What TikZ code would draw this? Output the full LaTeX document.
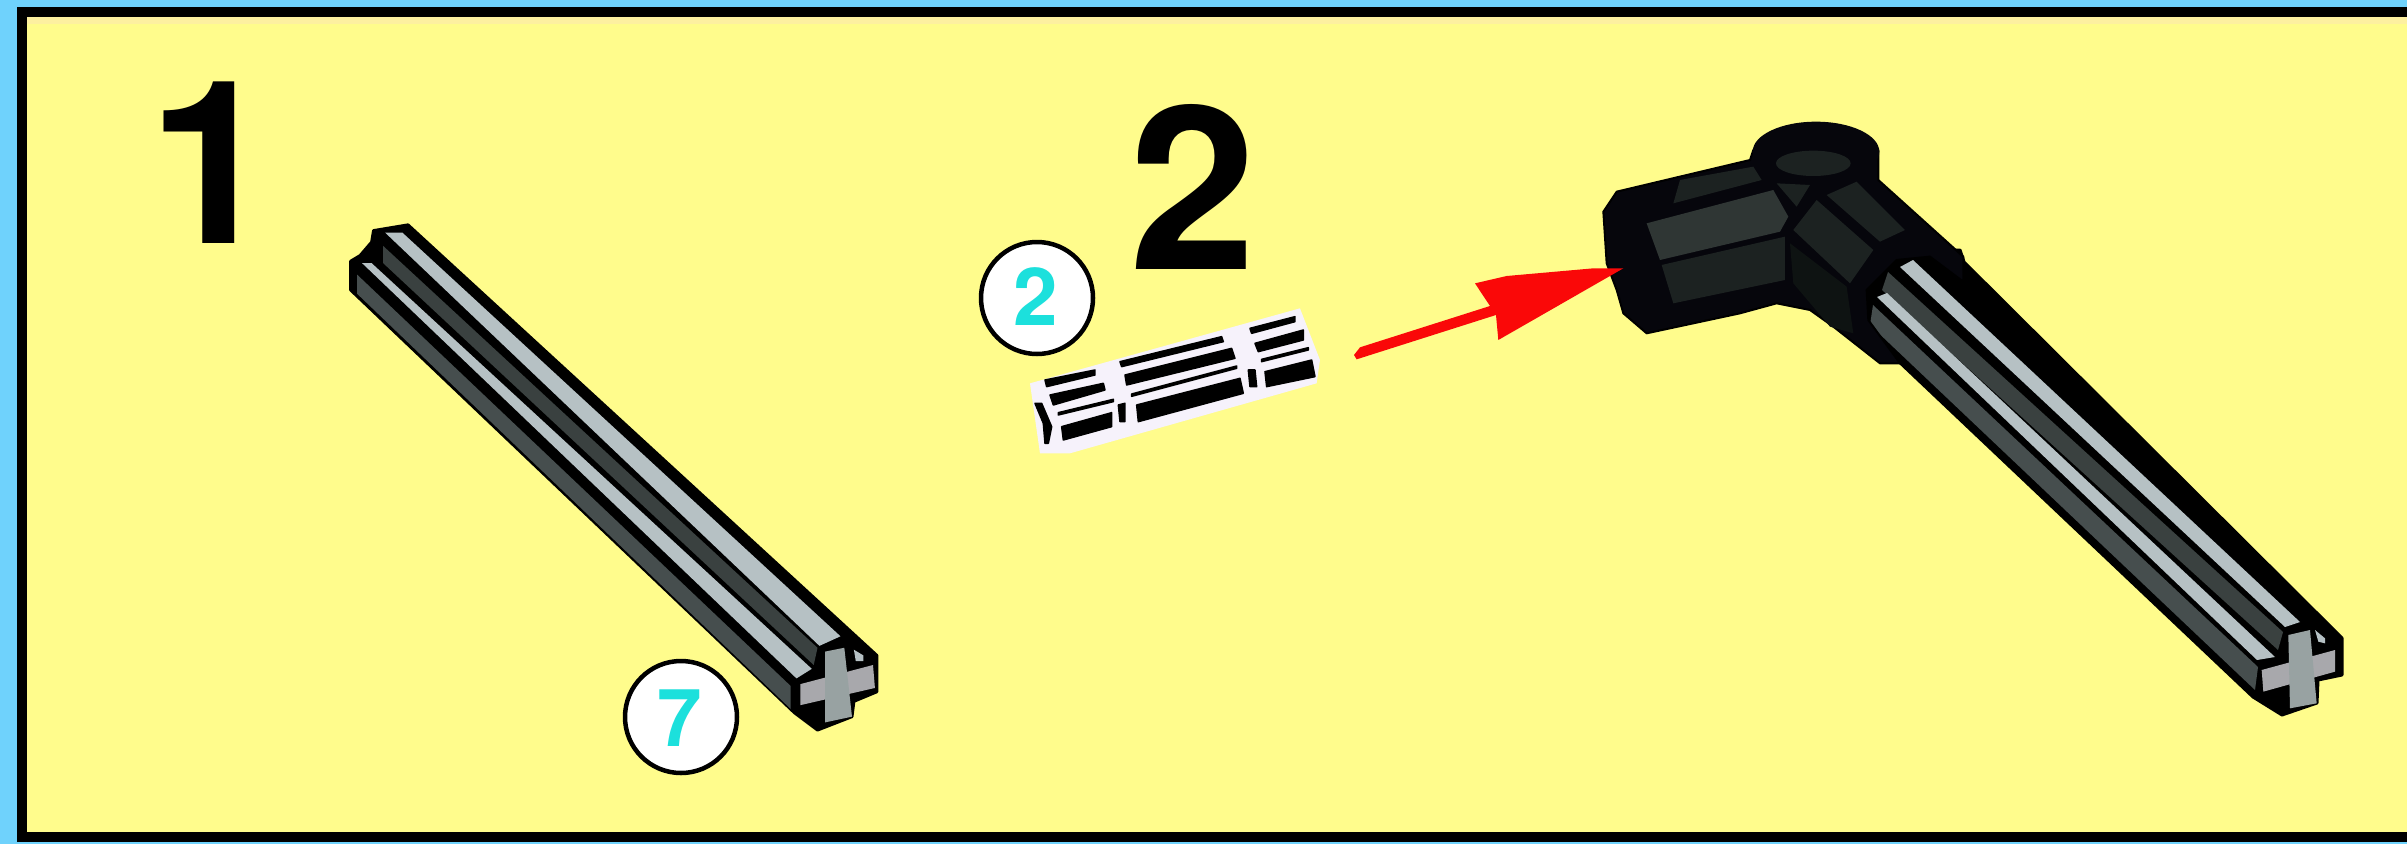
\documentclass[tikz,border=0pt]{standalone}
\usepackage{fontspec}
\setmainfont{TeX Gyre Heros}
\definecolor{skyc}{HTML}{6FD2FC}
\definecolor{paper}{HTML}{FFFC8C}
\definecolor{paleband}{HTML}{FDF0A0}
\definecolor{rodlight}{HTML}{B6C1C4}
\definecolor{roddark}{HTML}{3A4140}
\definecolor{rodlow}{HTML}{464E4E}
\definecolor{crossv}{HTML}{98A2A2}
\definecolor{crossh}{HTML}{A8A8AC}
\definecolor{numcyan}{HTML}{1CE0DC}
\definecolor{arrowred}{HTML}{FA0808}
\definecolor{jointtop}{HTML}{2F3634}
\definecolor{jointmid}{HTML}{1C2221}
\definecolor{jointlow}{HTML}{0E1312}
\definecolor{jointink}{HTML}{06060C}
\definecolor{blobc}{HTML}{F6F2FB}
\tikzset{
  ink/.style={fill=black,draw=black,line width=3pt,line join=round},
  stepnum/.style={inner sep=0pt,anchor=base,font=\bfseries\fontsize{228}{228}\selectfont,text=black},
  countdisc/.style={circle,draw=black,fill=white,line width=4.5pt,minimum size=112pt,inner sep=0pt},
  countnum/.style={inner sep=0pt,font=\bfseries\fontsize{80}{80}\selectfont,text=numcyan},
  partink/.style={fill=black,draw=black,line width=1.5pt,line join=round}
}
\begin{document}
\begin{tikzpicture}[x=1pt,y=-1pt]
\useasboundingbox (0,0) rectangle (2407,844);
\fill[skyc] (0,0) rectangle (2407,844);
\fill[black] (17,7) rectangle (2407,842);
\fill[paper] (27,17) rectangle (2407,832);
\fill[paleband] (27,17) rectangle (2407,24);

% step numbers
\node[stepnum] (stepone) at (212,243) {1};
\node[stepnum] (steptwo) at (1193,269) {2};

% first rod
\begin{scope}[shift={(320,200)},scale=0.3827]
  \path[ink] (80,160) -- (80,235) -- (1240,1340) -- (1300,1385) -- (1390,1350) -- (1395,1310)
     -- (1455,1285) -- (1455,1190) -- (230,65) -- (140,80) -- (135,110) -- (105,145) -- cycle;
  \fill[rodlight] (170,85) -- (215,85) -- (1360,1140) -- (1305,1165) -- cycle;
  \fill[roddark] (165,120) -- (1300,1170) -- (1290,1215) -- (165,165) -- cycle;
  \fill[rodlight] (110,165) -- (135,165) -- (1285,1225) -- (1245,1250) -- cycle;
  \fill[rodlow] (97,195) -- (1230,1270) -- (1230,1330) -- (97,245) -- cycle;
  \fill[black] (1312,1172) -- (1380,1150) -- (1380,1240) -- (1292,1255) -- cycle;
  \fill[crossh] (1255,1265) -- (1445,1215) -- (1450,1275) -- (1255,1320) -- cycle;
  \fill[crossv] (1320,1180) -- (1370,1170) -- (1390,1350) -- (1320,1365) -- cycle;
  \fill[rodlight] (1395,1175) -- (1420,1190) -- (1420,1205) -- (1400,1205) -- cycle;
\end{scope}
\node[countdisc] (discseven) at (681,717) {};
\node[countnum] (numseven) at (680,718) {7};

% second part
\begin{scope}[shift={(950,220)},scale=0.3333]
  \fill[blobc] (240,490) -- (1050,265) -- (1110,420) -- (1100,490) -- (360,700) -- (270,700) -- cycle;
  \path[partink] (285,480) -- (435,450) -- (435,465) -- (290,500) -- cycle;
  \path[partink] (300,525) -- (460,490) -- (465,510) -- (310,555) -- cycle;
  \path[partink] (510,425) -- (815,350) -- (820,365) -- (515,440) -- cycle;
  \path[partink] (525,465) -- (845,385) -- (855,415) -- (530,495) -- cycle;
  \path[partink] (900,325) -- (1035,290) -- (1035,305) -- (905,340) -- cycle;
  \path[partink] (915,370) -- (1060,330) -- (1060,360) -- (925,395) -- cycle;
  \path[partink] (325,578) -- (490,538) -- (490,545) -- (325,585) -- cycle;
  \path[partink] (545,522) -- (860,438) -- (860,445) -- (545,529) -- cycle;
  \path[partink] (935,418) -- (1075,383) -- (1075,390) -- (935,425) -- cycle;
  \path[partink] (335,620) -- (485,578) -- (485,620) -- (340,660) -- cycle;
  \path[partink] (505,555) -- (525,550) -- (525,605) -- (510,605) -- cycle;
  \path[partink] (560,555) -- (870,475) -- (880,520) -- (565,605) -- cycle;
  \path[partink] (895,450) -- (915,450) -- (920,500) -- (900,500) -- cycle;
  \path[partink] (945,455) -- (1085,420) -- (1095,470) -- (950,500) -- cycle;
  \path[partink] (255,550) -- (275,550) -- (305,620) -- (295,670) -- (285,670) -- (280,610) -- cycle;
\end{scope}
\node[countdisc] (disctwo) at (1037,298) {};
\node[countnum] (numtwo) at (1036,297) {2};

% rod of the assembly
\path[ink] (1860,250) -- (1960,250) -- (1964,262) -- (2342,638) -- (2342,675) -- (2318,680) -- (2317,703) -- (2282,715)
   -- (2253,697) -- (1895,358) -- (1860,340) -- cycle;
\fill[rodlight] (1900,267) -- (1913,260) -- (2300,622) -- (2285,627) -- cycle;
\fill[roddark] (1888,272) -- (2283,632) -- (2278,650) -- (1882,290) -- cycle;
\fill[rodlight] (1877,297) -- (1887,293) -- (2275,657) -- (2257,660) -- cycle;
\fill[rodlow] (1873,305) -- (2258,667) -- (2255,690) -- (1870,325) -- cycle;
\begin{scope}[shift={(2150,560)},scale=0.3333]
  \fill[black] (410,210) -- (500,190) -- (500,300) -- (375,310) -- cycle;
  \fill[crossh] (335,330) -- (555,270) -- (555,335) -- (340,395) -- cycle;
  \fill[crossv] (415,225) -- (480,210) -- (500,430) -- (420,445) -- cycle;
  \fill[rodlight] (495,210) -- (525,235) -- (525,250) -- (505,245) -- cycle;
\end{scope}

% joint of the assembly
\begin{scope}[shift={(1580,100)},scale=0.3333]
  \path[fill=jointink,draw=black,line width=2pt,line join=round]
     (70,335) -- (110,275) -- (510,180) -- (520,150) -- (895,150) -- (895,240) -- (1150,470) -- (1150,545)
     -- (1050,470) -- (950,480) -- (860,570) -- (865,660) -- (960,790) -- (900,790)
     -- (760,680) -- (690,630) -- (590,610) -- (480,640) -- (200,700) -- (130,640)
     -- (110,570) -- (80,490) -- cycle;
  \fill[jointink] (708,155) ellipse [x radius=190,y radius=90];
  \fill[jointmid] (300,240) -- (520,200) -- (545,240) -- (280,310) -- cycle;
  \fill[jointtop] (200,370) -- (580,270) -- (625,350) -- (600,395) -- (240,480) -- cycle;
  \fill[jointmid] (245,495) -- (615,410) -- (615,540) -- (280,610) -- cycle;
  \fill[jointlow] (630,430) -- (800,560) -- (820,700) -- (750,680) -- (640,550) -- cycle;
  \fill[jointmid] (640,390) -- (710,300) -- (880,450) -- (810,550) -- cycle;
  \fill[jointmid] (740,285) -- (830,245) -- (975,390) -- (900,425) -- cycle;
  \fill[jointmid] (590,250) -- (690,255) -- (650,320) -- cycle;
  \fill[jointmid] (700,190) ellipse [x radius=112,y radius=38];
\end{scope}

% red arrow
\begin{scope}[shift={(1340,240)},scale=0.3333]
  \fill[arrowred] (42,345) -- (60,322) -- (450,198) -- (405,130) -- (500,108) -- (760,85) -- (850,85) -- (475,300)
     -- (468,225) -- (50,358) -- cycle;
\end{scope}
\end{tikzpicture}
\end{document}
